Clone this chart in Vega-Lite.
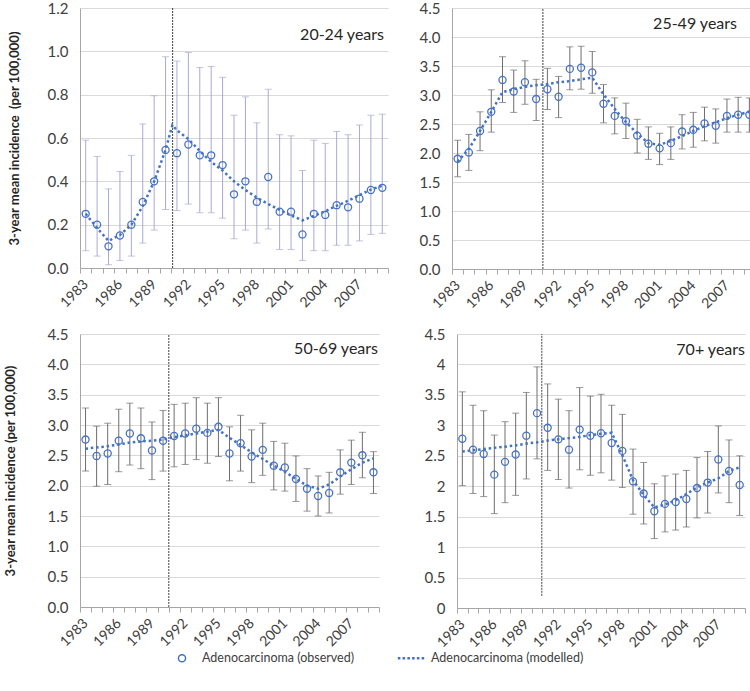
{
  "$schema": "https://vega.github.io/schema/vega-lite/v6.json",
  "padding": {"left": 4, "top": 1, "right": 0, "bottom": 0},
  "background": "white",
  "datasets": {
    "obs": [
      {"p":1,"year":1983,"v":0.25,"lo":0.08,"hi":0.59},{"p":1,"year":1984,"v":0.20,"lo":0.055,"hi":0.515},{"p":1,"year":1985,"v":0.10,"lo":0.015,"hi":0.365},{"p":1,"year":1986,"v":0.15,"lo":0.035,"hi":0.445},{"p":1,"year":1987,"v":0.20,"lo":0.055,"hi":0.52},{"p":1,"year":1988,"v":0.305,"lo":0.115,"hi":0.665},{"p":1,"year":1989,"v":0.40,"lo":0.175,"hi":0.795},{"p":1,"year":1990,"v":0.545,"lo":0.27,"hi":0.975},{"p":1,"year":1991,"v":0.53,"lo":0.265,"hi":0.955},{"p":1,"year":1992,"v":0.57,"lo":0.295,"hi":0.995},{"p":1,"year":1993,"v":0.52,"lo":0.255,"hi":0.925},{"p":1,"year":1994,"v":0.52,"lo":0.255,"hi":0.93},{"p":1,"year":1995,"v":0.475,"lo":0.23,"hi":0.88},{"p":1,"year":1996,"v":0.34,"lo":0.135,"hi":0.705},{"p":1,"year":1997,"v":0.40,"lo":0.175,"hi":0.79},{"p":1,"year":1998,"v":0.305,"lo":0.115,"hi":0.67},{"p":1,"year":1999,"v":0.42,"lo":0.18,"hi":0.825},{"p":1,"year":2000,"v":0.26,"lo":0.085,"hi":0.615},{"p":1,"year":2001,"v":0.26,"lo":0.085,"hi":0.61},{"p":1,"year":2002,"v":0.155,"lo":0.035,"hi":0.45},{"p":1,"year":2003,"v":0.25,"lo":0.08,"hi":0.59},{"p":1,"year":2004,"v":0.245,"lo":0.08,"hi":0.575},{"p":1,"year":2005,"v":0.29,"lo":0.105,"hi":0.63},{"p":1,"year":2006,"v":0.28,"lo":0.105,"hi":0.615},{"p":1,"year":2007,"v":0.32,"lo":0.125,"hi":0.66},{"p":1,"year":2008,"v":0.36,"lo":0.155,"hi":0.705},{"p":1,"year":2009,"v":0.37,"lo":0.16,"hi":0.71},
      {"p":2,"year":1983,"v":1.90,"lo":1.59,"hi":2.22},{"p":2,"year":1984,"v":2.01,"lo":1.70,"hi":2.32},{"p":2,"year":1985,"v":2.38,"lo":2.04,"hi":2.71},{"p":2,"year":1986,"v":2.71,"lo":2.36,"hi":3.09},{"p":2,"year":1987,"v":3.26,"lo":2.87,"hi":3.66},{"p":2,"year":1988,"v":3.06,"lo":2.70,"hi":3.43},{"p":2,"year":1989,"v":3.22,"lo":2.84,"hi":3.59},{"p":2,"year":1990,"v":2.93,"lo":2.56,"hi":3.27},{"p":2,"year":1991,"v":3.10,"lo":2.75,"hi":3.46},{"p":2,"year":1992,"v":2.97,"lo":2.61,"hi":3.32},{"p":2,"year":1993,"v":3.45,"lo":3.09,"hi":3.83},{"p":2,"year":1994,"v":3.47,"lo":3.10,"hi":3.84},{"p":2,"year":1995,"v":3.39,"lo":3.03,"hi":3.75},{"p":2,"year":1996,"v":2.85,"lo":2.52,"hi":3.18},{"p":2,"year":1997,"v":2.64,"lo":2.33,"hi":2.95},{"p":2,"year":1998,"v":2.55,"lo":2.25,"hi":2.86},{"p":2,"year":1999,"v":2.30,"lo":2.00,"hi":2.58},{"p":2,"year":2000,"v":2.16,"lo":1.89,"hi":2.45},{"p":2,"year":2001,"v":2.08,"lo":1.80,"hi":2.34},{"p":2,"year":2002,"v":2.17,"lo":1.89,"hi":2.45},{"p":2,"year":2003,"v":2.37,"lo":2.07,"hi":2.66},{"p":2,"year":2004,"v":2.40,"lo":2.10,"hi":2.70},{"p":2,"year":2005,"v":2.51,"lo":2.21,"hi":2.79},{"p":2,"year":2006,"v":2.47,"lo":2.17,"hi":2.76},{"p":2,"year":2007,"v":2.64,"lo":2.36,"hi":2.93},{"p":2,"year":2008,"v":2.66,"lo":2.36,"hi":2.96},{"p":2,"year":2009,"v":2.66,"lo":2.36,"hi":2.95},
      {"p":3,"year":1983,"v":2.76,"lo":2.24,"hi":3.28},{"p":3,"year":1984,"v":2.49,"lo":1.99,"hi":2.98},{"p":3,"year":1985,"v":2.53,"lo":2.02,"hi":3.03},{"p":3,"year":1986,"v":2.74,"lo":2.23,"hi":3.26},{"p":3,"year":1987,"v":2.86,"lo":2.34,"hi":3.36},{"p":3,"year":1988,"v":2.78,"lo":2.28,"hi":3.28},{"p":3,"year":1989,"v":2.58,"lo":2.10,"hi":3.05},{"p":3,"year":1990,"v":2.74,"lo":2.24,"hi":3.24},{"p":3,"year":1991,"v":2.82,"lo":2.31,"hi":3.34},{"p":3,"year":1992,"v":2.86,"lo":2.35,"hi":3.36},{"p":3,"year":1993,"v":2.94,"lo":2.43,"hi":3.45},{"p":3,"year":1994,"v":2.87,"lo":2.37,"hi":3.36},{"p":3,"year":1995,"v":2.97,"lo":2.48,"hi":3.45},{"p":3,"year":1996,"v":2.53,"lo":2.08,"hi":2.97},{"p":3,"year":1997,"v":2.70,"lo":2.24,"hi":3.16},{"p":3,"year":1998,"v":2.48,"lo":2.05,"hi":2.92},{"p":3,"year":1999,"v":2.59,"lo":2.17,"hi":3.03},{"p":3,"year":2000,"v":2.33,"lo":1.93,"hi":2.73},{"p":3,"year":2001,"v":2.30,"lo":1.91,"hi":2.70},{"p":3,"year":2002,"v":2.11,"lo":1.74,"hi":2.49},{"p":3,"year":2003,"v":1.95,"lo":1.58,"hi":2.28},{"p":3,"year":2004,"v":1.83,"lo":1.50,"hi":2.16},{"p":3,"year":2005,"v":1.88,"lo":1.55,"hi":2.22},{"p":3,"year":2006,"v":2.22,"lo":1.86,"hi":2.59},{"p":3,"year":2007,"v":2.38,"lo":2.02,"hi":2.75},{"p":3,"year":2008,"v":2.50,"lo":2.13,"hi":2.88},{"p":3,"year":2009,"v":2.22,"lo":1.87,"hi":2.56},
      {"p":4,"year":1983,"v":2.78,"lo":2.01,"hi":3.55},{"p":4,"year":1984,"v":2.60,"lo":1.88,"hi":3.33},{"p":4,"year":1985,"v":2.53,"lo":1.83,"hi":3.24},{"p":4,"year":1986,"v":2.19,"lo":1.55,"hi":2.84},{"p":4,"year":1987,"v":2.40,"lo":1.73,"hi":3.06},{"p":4,"year":1988,"v":2.52,"lo":1.85,"hi":3.20},{"p":4,"year":1989,"v":2.83,"lo":2.12,"hi":3.54},{"p":4,"year":1990,"v":3.20,"lo":2.45,"hi":3.96},{"p":4,"year":1991,"v":2.96,"lo":2.26,"hi":3.68},{"p":4,"year":1992,"v":2.77,"lo":2.11,"hi":3.43},{"p":4,"year":1993,"v":2.60,"lo":1.97,"hi":3.24},{"p":4,"year":1994,"v":2.93,"lo":2.27,"hi":3.62},{"p":4,"year":1995,"v":2.83,"lo":2.18,"hi":3.48},{"p":4,"year":1996,"v":2.87,"lo":2.22,"hi":3.51},{"p":4,"year":1997,"v":2.71,"lo":2.10,"hi":3.33},{"p":4,"year":1998,"v":2.58,"lo":1.98,"hi":3.18},{"p":4,"year":1999,"v":2.08,"lo":1.54,"hi":2.61},{"p":4,"year":2000,"v":1.88,"lo":1.38,"hi":2.39},{"p":4,"year":2001,"v":1.59,"lo":1.14,"hi":2.04},{"p":4,"year":2002,"v":1.71,"lo":1.25,"hi":2.17},{"p":4,"year":2003,"v":1.74,"lo":1.28,"hi":2.20},{"p":4,"year":2004,"v":1.79,"lo":1.33,"hi":2.26},{"p":4,"year":2005,"v":1.97,"lo":1.48,"hi":2.47},{"p":4,"year":2006,"v":2.06,"lo":1.56,"hi":2.57},{"p":4,"year":2007,"v":2.44,"lo":1.89,"hi":2.99},{"p":4,"year":2008,"v":2.25,"lo":1.73,"hi":2.76},{"p":4,"year":2009,"v":2.02,"lo":1.52,"hi":2.50}
    ],
    "model": [
      {"p":1,"year":1983,"m":0.25},{"p":1,"year":1984,"m":0.185},{"p":1,"year":1985,"m":0.125},{"p":1,"year":1986,"m":0.152},{"p":1,"year":1987,"m":0.20},{"p":1,"year":1988,"m":0.285},{"p":1,"year":1989,"m":0.40},{"p":1,"year":1990,"m":0.545},{"p":1,"year":1990.6,"m":0.66},{"p":1,"year":1991,"m":0.635},{"p":1,"year":1992,"m":0.595},{"p":1,"year":1993,"m":0.54},{"p":1,"year":1994,"m":0.49},{"p":1,"year":1995,"m":0.45},{"p":1,"year":1996,"m":0.40},{"p":1,"year":1997,"m":0.36},{"p":1,"year":1998,"m":0.325},{"p":1,"year":1999,"m":0.295},{"p":1,"year":2000,"m":0.268},{"p":1,"year":2001,"m":0.243},{"p":1,"year":2002,"m":0.22},{"p":1,"year":2003,"m":0.24},{"p":1,"year":2004,"m":0.262},{"p":1,"year":2005,"m":0.287},{"p":1,"year":2006,"m":0.31},{"p":1,"year":2007,"m":0.337},{"p":1,"year":2008,"m":0.362},{"p":1,"year":2009,"m":0.38},
      {"p":2,"year":1983,"m":1.85},{"p":2,"year":1984,"m":2.07},{"p":2,"year":1985,"m":2.38},{"p":2,"year":1986,"m":2.71},{"p":2,"year":1987,"m":3.05},{"p":2,"year":1988,"m":3.10},{"p":2,"year":1989,"m":3.14},{"p":2,"year":1990,"m":3.17},{"p":2,"year":1991,"m":3.19},{"p":2,"year":1992,"m":3.22},{"p":2,"year":1993,"m":3.24},{"p":2,"year":1994,"m":3.27},{"p":2,"year":1995,"m":3.30},{"p":2,"year":1996,"m":3.01},{"p":2,"year":1997,"m":2.76},{"p":2,"year":1998,"m":2.53},{"p":2,"year":1999,"m":2.34},{"p":2,"year":2000,"m":2.17},{"p":2,"year":2001,"m":2.14},{"p":2,"year":2002,"m":2.21},{"p":2,"year":2003,"m":2.29},{"p":2,"year":2004,"m":2.38},{"p":2,"year":2005,"m":2.46},{"p":2,"year":2006,"m":2.53},{"p":2,"year":2007,"m":2.60},{"p":2,"year":2008,"m":2.66},{"p":2,"year":2009,"m":2.71},
      {"p":3,"year":1983,"m":2.61},{"p":3,"year":1984,"m":2.63},{"p":3,"year":1985,"m":2.65},{"p":3,"year":1986,"m":2.68},{"p":3,"year":1987,"m":2.71},{"p":3,"year":1988,"m":2.73},{"p":3,"year":1989,"m":2.74},{"p":3,"year":1990,"m":2.76},{"p":3,"year":1991,"m":2.80},{"p":3,"year":1992,"m":2.83},{"p":3,"year":1993,"m":2.86},{"p":3,"year":1994,"m":2.89},{"p":3,"year":1995,"m":2.92},{"p":3,"year":1996,"m":2.79},{"p":3,"year":1997,"m":2.67},{"p":3,"year":1998,"m":2.55},{"p":3,"year":1999,"m":2.44},{"p":3,"year":2000,"m":2.33},{"p":3,"year":2001,"m":2.23},{"p":3,"year":2002,"m":2.11},{"p":3,"year":2003,"m":2.00},{"p":3,"year":2004,"m":1.95},{"p":3,"year":2005,"m":2.02},{"p":3,"year":2006,"m":2.15},{"p":3,"year":2007,"m":2.27},{"p":3,"year":2008,"m":2.38},{"p":3,"year":2009,"m":2.45},
      {"p":4,"year":1983,"m":2.57},{"p":4,"year":1984,"m":2.59},{"p":4,"year":1985,"m":2.61},{"p":4,"year":1986,"m":2.63},{"p":4,"year":1987,"m":2.65},{"p":4,"year":1988,"m":2.67},{"p":4,"year":1989,"m":2.70},{"p":4,"year":1990,"m":2.72},{"p":4,"year":1991,"m":2.75},{"p":4,"year":1992,"m":2.77},{"p":4,"year":1993,"m":2.79},{"p":4,"year":1994,"m":2.81},{"p":4,"year":1995,"m":2.84},{"p":4,"year":1996,"m":2.86},{"p":4,"year":1997,"m":2.88},{"p":4,"year":1998,"m":2.51},{"p":4,"year":1999,"m":2.10},{"p":4,"year":2000,"m":1.86},{"p":4,"year":2001,"m":1.65},{"p":4,"year":2002,"m":1.70},{"p":4,"year":2003,"m":1.77},{"p":4,"year":2004,"m":1.87},{"p":4,"year":2005,"m":1.98},{"p":4,"year":2006,"m":2.06},{"p":4,"year":2007,"m":2.13},{"p":4,"year":2008,"m":2.25},{"p":4,"year":2009,"m":2.31}
    ],
    "vline": [
      {"p":1,"year":1990.62,"y1":0,"y2":1.2},
      {"p":2,"year":1990.6,"y1":0,"y2":4.5},
      {"p":3,"year":1990.52,"y1":0,"y2":4.5},
      {"p":4,"year":1990.45,"y1":0.2,"y2":4.5}
    ]
  },
  "config": {
    "font": "Lato",
    "view": {"stroke": null},
    "axis": {"labelFont": "Lato", "labelColor": "#404040", "domainColor": "#A6A6A6", "tickColor": "#A6A6A6", "gridColor": "#D9D9D9", "titleFont": "Lato", "labelOverlap": false, "tickCount": 60},
    "axisY": {"labelFontSize": 15, "labelPadding": 12, "ticks": false, "grid": true, "titleFontSize": 13, "titleFontWeight": "bold", "titleColor": "#262626", "labelOverlap": false},
    "axisX": {"labelFontSize": 14, "labelAngle": -45, "labelAlign": "right", "labelBaseline": "middle", "tickSize": 5, "grid": false, "labelPadding": 9, "labelOverlap": false, "labelFlush": false, "labelBound": false},
    "title": {"font": "Lato", "fontSize": 16, "fontWeight": "normal", "color": "#262626", "anchor": "end", "frame": "group", "baseline": "alphabetic"}
  },
  "spacing": 16,
  "vconcat": [
    {
      "spacing": 20,
      "hconcat": [
        {
          "width": 308, "height": 260,
          "title": {"text": "20-24 years", "offset": -42, "dx": -4},
          "layer": [
            {"data": {"name": "obs"}, "transform": [{"filter": "datum.p == 1"}],
             "mark": {"type": "rule", "color": "#A9A9D4", "strokeWidth": 1},
             "encoding": {
               "x": {"field": "year", "type": "quantitative", "scale": {"domain": [1982.5, 2009.5], "nice": false, "zero": false},
                     "axis": {"title": null, "labelOverlap": false, "tickCount": 60, "values": [1982.5,1983.5,1984.5,1985.5,1986.5,1987.5,1988.5,1989.5,1990.5,1991.5,1992.5,1993.5,1994.5,1995.5,1996.5,1997.5,1998.5,1999.5,2000.5,2001.5,2002.5,2003.5,2004.5,2005.5,2006.5,2007.5,2008.5,2009.5],
                              "labelExpr": "(datum.value + 0.5 - 1983) % 3 == 0 && datum.value < 2009 ? format(datum.value + 0.5, 'd') : ''", "labelOffset": 5.7}},
               "y": {"field": "lo", "type": "quantitative", "scale": {"domain": [0, 1.2], "nice": false},
                     "axis": {"title": "3-year mean incidence\u00a0 (per 100,000)", "labelOverlap": false, "tickCount": 60, "values": [0,0.2,0.4,0.6,0.8,1.0,1.2], "format": ".1f", "titlePadding": 26}},
               "y2": {"field": "hi"}}},
            {"data": {"name": "obs"}, "transform": [{"filter": "datum.p == 1"}],
             "mark": {"type": "tick", "orient": "horizontal", "color": "#A9A9D4", "size": 7, "thickness": 1},
             "encoding": {"x": {"field": "year", "type": "quantitative"}, "y": {"field": "lo", "type": "quantitative"}}},
            {"data": {"name": "obs"}, "transform": [{"filter": "datum.p == 1"}],
             "mark": {"type": "tick", "orient": "horizontal", "color": "#A9A9D4", "size": 7, "thickness": 1},
             "encoding": {"x": {"field": "year", "type": "quantitative"}, "y": {"field": "hi", "type": "quantitative"}}},
            {"data": {"name": "vline"}, "transform": [{"filter": "datum.p == 1"}],
             "mark": {"type": "rule", "color": "#404040", "strokeDash": [2, 1], "strokeWidth": 1},
             "encoding": {"x": {"field": "year", "type": "quantitative"}, "y": {"field": "y1", "type": "quantitative"}, "y2": {"field": "y2"}}},
            {"data": {"name": "obs"}, "transform": [{"filter": "datum.p == 1"}],
             "mark": {"type": "point", "shape": "circle", "filled": false, "color": "#4472C4", "size": 50, "strokeWidth": 1.3, "opacity": 1},
             "encoding": {"x": {"field": "year", "type": "quantitative"}, "y": {"field": "v", "type": "quantitative"}}},
            {"data": {"name": "model"}, "transform": [{"filter": "datum.p == 1"}],
             "mark": {"type": "line", "color": "#4472C4", "strokeWidth": 2.5, "strokeDash": [2.5, 2.8]},
             "encoding": {"x": {"field": "year", "type": "quantitative"}, "y": {"field": "m", "type": "quantitative"}}}
          ]
        },
        {
          "width": 303, "height": 261,
          "title": {"text": "25-49 years", "offset": -31, "dx": -18},
          "layer": [
            {"data": {"name": "obs"}, "transform": [{"filter": "datum.p == 2"}],
             "mark": {"type": "rule", "color": "#6E6E6E", "strokeWidth": 1},
             "encoding": {
               "x": {"field": "year", "type": "quantitative", "scale": {"domain": [1982.5, 2009.5], "nice": false, "zero": false},
                     "axis": {"title": null, "labelOverlap": false, "tickCount": 60, "values": [1982.5,1983.5,1984.5,1985.5,1986.5,1987.5,1988.5,1989.5,1990.5,1991.5,1992.5,1993.5,1994.5,1995.5,1996.5,1997.5,1998.5,1999.5,2000.5,2001.5,2002.5,2003.5,2004.5,2005.5,2006.5,2007.5,2008.5,2009.5],
                              "labelExpr": "(datum.value + 0.5 - 1983) % 3 == 0 && datum.value < 2009 ? format(datum.value + 0.5, 'd') : ''", "labelOffset": 5.6}},
               "y": {"field": "lo", "type": "quantitative", "scale": {"domain": [0, 4.5], "nice": false},
                     "axis": {"title": null, "labelOverlap": false, "tickCount": 60, "values": [0,0.5,1,1.5,2,2.5,3,3.5,4,4.5], "format": ".1f"}},
               "y2": {"field": "hi"}}},
            {"data": {"name": "obs"}, "transform": [{"filter": "datum.p == 2"}],
             "mark": {"type": "tick", "orient": "horizontal", "color": "#6E6E6E", "size": 7, "thickness": 1},
             "encoding": {"x": {"field": "year", "type": "quantitative"}, "y": {"field": "lo", "type": "quantitative"}}},
            {"data": {"name": "obs"}, "transform": [{"filter": "datum.p == 2"}],
             "mark": {"type": "tick", "orient": "horizontal", "color": "#6E6E6E", "size": 7, "thickness": 1},
             "encoding": {"x": {"field": "year", "type": "quantitative"}, "y": {"field": "hi", "type": "quantitative"}}},
            {"data": {"name": "vline"}, "transform": [{"filter": "datum.p == 2"}],
             "mark": {"type": "rule", "color": "#404040", "strokeDash": [2, 1], "strokeWidth": 1},
             "encoding": {"x": {"field": "year", "type": "quantitative"}, "y": {"field": "y1", "type": "quantitative"}, "y2": {"field": "y2"}}},
            {"data": {"name": "obs"}, "transform": [{"filter": "datum.p == 2"}],
             "mark": {"type": "point", "shape": "circle", "filled": false, "color": "#4472C4", "size": 50, "strokeWidth": 1.3, "opacity": 1},
             "encoding": {"x": {"field": "year", "type": "quantitative"}, "y": {"field": "v", "type": "quantitative"}}},
            {"data": {"name": "model"}, "transform": [{"filter": "datum.p == 2"}],
             "mark": {"type": "line", "color": "#4472C4", "strokeWidth": 2.5, "strokeDash": [2.5, 2.8]},
             "encoding": {"x": {"field": "year", "type": "quantitative"}, "y": {"field": "m", "type": "quantitative"}}}
          ]
        }
      ]
    },
    {
      "spacing": 34,
      "hconcat": [
        {
          "width": 299, "height": 273,
          "title": {"text": "50-69 years", "offset": -30, "dx": -1},
          "layer": [
            {"data": {"name": "obs"}, "transform": [{"filter": "datum.p == 3"}],
             "mark": {"type": "rule", "color": "#6E6E6E", "strokeWidth": 1},
             "encoding": {
               "x": {"field": "year", "type": "quantitative", "scale": {"domain": [1982.5, 2009.5], "nice": false, "zero": false},
                     "axis": {"title": null, "labelOverlap": false, "tickCount": 60, "values": [1982.5,1983.5,1984.5,1985.5,1986.5,1987.5,1988.5,1989.5,1990.5,1991.5,1992.5,1993.5,1994.5,1995.5,1996.5,1997.5,1998.5,1999.5,2000.5,2001.5,2002.5,2003.5,2004.5,2005.5,2006.5,2007.5,2008.5,2009.5],
                              "labelExpr": "(datum.value + 0.5 - 1983) % 3 == 0 && datum.value < 2009 ? format(datum.value + 0.5, 'd') : ''", "labelOffset": 5.5}},
               "y": {"field": "lo", "type": "quantitative", "scale": {"domain": [0, 4.5], "nice": false},
                     "axis": {"title": "3-year mean incidence (per 100,000)", "labelOverlap": false, "tickCount": 60, "values": [0,0.5,1,1.5,2,2.5,3,3.5,4,4.5], "format": ".1f", "titlePadding": 30}},
               "y2": {"field": "hi"}}},
            {"data": {"name": "obs"}, "transform": [{"filter": "datum.p == 3"}],
             "mark": {"type": "tick", "orient": "horizontal", "color": "#6E6E6E", "size": 7, "thickness": 1},
             "encoding": {"x": {"field": "year", "type": "quantitative"}, "y": {"field": "lo", "type": "quantitative"}}},
            {"data": {"name": "obs"}, "transform": [{"filter": "datum.p == 3"}],
             "mark": {"type": "tick", "orient": "horizontal", "color": "#6E6E6E", "size": 7, "thickness": 1},
             "encoding": {"x": {"field": "year", "type": "quantitative"}, "y": {"field": "hi", "type": "quantitative"}}},
            {"data": {"name": "vline"}, "transform": [{"filter": "datum.p == 3"}],
             "mark": {"type": "rule", "color": "#404040", "strokeDash": [2, 1], "strokeWidth": 1},
             "encoding": {"x": {"field": "year", "type": "quantitative"}, "y": {"field": "y1", "type": "quantitative"}, "y2": {"field": "y2"}}},
            {"data": {"name": "obs"}, "transform": [{"filter": "datum.p == 3"}],
             "mark": {"type": "point", "filled": false, "color": "#4472C4", "size": 700, "strokeWidth": 1.3, "opacity": 1},
             "encoding": {"x": {"field": "year", "type": "quantitative"}, "y": {"field": "v", "type": "quantitative"},
               "shape": {"datum": "Adenocarcinoma (observed)", "type": "nominal",
                 "scale": {"domain": ["Adenocarcinoma (observed)", "Adenocarcinoma (modelled)"],
                           "range": ["M-0.27,0A0.27,0.27,0,1,1,0.27,0A0.27,0.27,0,1,1,-0.27,0Z",
                                     "M-0.94,-0.04h0.08v0.08h-0.08zM-0.58,-0.04h0.08v0.08h-0.08zM-0.22,-0.04h0.08v0.08h-0.08zM0.14,-0.04h0.08v0.08h-0.08zM0.5,-0.04h0.08v0.08h-0.08zM0.86,-0.04h0.08v0.08h-0.08z"]},
                 "legend": {"title": null, "orient": "none", "legendX": 88, "legendY": 636, "direction": "horizontal", "padding": 0,
                   "symbolSize": 700, "columnPadding": 40, "labelFont": "Lato", "labelFontSize": 12.5, "labelColor": "#404040", "labelOffset": 6,
                   "symbolStrokeColor": "#4472C4", "symbolFillColor": "transparent", "symbolStrokeWidth": 1.5}}}},
            {"data": {"name": "model"}, "transform": [{"filter": "datum.p == 3"}],
             "mark": {"type": "line", "color": "#4472C4", "strokeWidth": 2.5, "strokeDash": [2.5, 2.8]},
             "encoding": {"x": {"field": "year", "type": "quantitative"}, "y": {"field": "m", "type": "quantitative"}}}
          ]
        },
        {
          "width": 288, "height": 274,
          "title": {"text": "70+ years", "offset": -31, "dx": 0},
          "layer": [
            {"data": {"name": "obs"}, "transform": [{"filter": "datum.p == 4"}],
             "mark": {"type": "rule", "color": "#6E6E6E", "strokeWidth": 1},
             "encoding": {
               "x": {"field": "year", "type": "quantitative", "scale": {"domain": [1982.5, 2009.5], "nice": false, "zero": false},
                     "axis": {"title": null, "labelOverlap": false, "tickCount": 60, "values": [1982.5,1983.5,1984.5,1985.5,1986.5,1987.5,1988.5,1989.5,1990.5,1991.5,1992.5,1993.5,1994.5,1995.5,1996.5,1997.5,1998.5,1999.5,2000.5,2001.5,2002.5,2003.5,2004.5,2005.5,2006.5,2007.5,2008.5,2009.5],
                              "labelExpr": "(datum.value + 0.5 - 1983) % 3 == 0 && datum.value < 2009 ? format(datum.value + 0.5, 'd') : ''", "labelOffset": 5.3}},
               "y": {"field": "lo", "type": "quantitative", "scale": {"domain": [0, 4.5], "nice": false},
                     "axis": {"title": null, "labelOverlap": false, "tickCount": 60, "values": [0,0.5,1,1.5,2,2.5,3,3.5,4,4.5], "format": "~g"}},
               "y2": {"field": "hi"}}},
            {"data": {"name": "obs"}, "transform": [{"filter": "datum.p == 4"}],
             "mark": {"type": "tick", "orient": "horizontal", "color": "#6E6E6E", "size": 7, "thickness": 1},
             "encoding": {"x": {"field": "year", "type": "quantitative"}, "y": {"field": "lo", "type": "quantitative"}}},
            {"data": {"name": "obs"}, "transform": [{"filter": "datum.p == 4"}],
             "mark": {"type": "tick", "orient": "horizontal", "color": "#6E6E6E", "size": 7, "thickness": 1},
             "encoding": {"x": {"field": "year", "type": "quantitative"}, "y": {"field": "hi", "type": "quantitative"}}},
            {"data": {"name": "vline"}, "transform": [{"filter": "datum.p == 4"}],
             "mark": {"type": "rule", "color": "#404040", "strokeDash": [2, 1], "strokeWidth": 1},
             "encoding": {"x": {"field": "year", "type": "quantitative"}, "y": {"field": "y1", "type": "quantitative"}, "y2": {"field": "y2"}}},
            {"data": {"name": "obs"}, "transform": [{"filter": "datum.p == 4"}],
             "mark": {"type": "point", "shape": "circle", "filled": false, "color": "#4472C4", "size": 50, "strokeWidth": 1.3, "opacity": 1},
             "encoding": {"x": {"field": "year", "type": "quantitative"}, "y": {"field": "v", "type": "quantitative"}}},
            {"data": {"name": "model"}, "transform": [{"filter": "datum.p == 4"}],
             "mark": {"type": "line", "color": "#4472C4", "strokeWidth": 2.5, "strokeDash": [2.5, 2.8]},
             "encoding": {"x": {"field": "year", "type": "quantitative"}, "y": {"field": "m", "type": "quantitative"}}}
          ]
        }
      ]
    }
  ]
}
